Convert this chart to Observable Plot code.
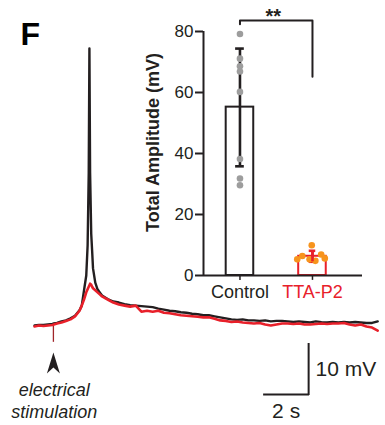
<!DOCTYPE html>
<html><head><meta charset="utf-8">
<script src="https://cdn.jsdelivr.net/npm/d3@7"></script>
<script src="https://cdn.jsdelivr.net/npm/@observablehq/plot@0.6"></script>
<style>
body{margin:0;background:#fff;}
#wrap{position:relative;width:385px;height:425px;font-family:"Liberation Sans",Arial,sans-serif;}
#wrap svg{position:absolute;top:0;}
</style></head><body><div id="wrap"></div>
<script>
// ---- trace data (time in s, membrane potential in mV relative to rest) ----
const times = [0, 0.2, 0.4, 0.6, 0.8, 0.86, 1.0, 1.2, 1.4, 1.6, 1.8, 2.0, 2.1, 2.2, 2.3, 2.36, 2.41, 2.44, 2.47, 2.52, 2.56, 2.6, 2.7, 2.8, 2.9, 3.0,
  3.25, 3.5, 3.75, 4.0, 4.25, 4.5, 4.75, 5.0, 5.25, 5.5, 5.75, 6.0, 6.25, 6.5, 6.75, 7.0, 7.25, 7.5, 7.75, 8.0, 8.25, 8.5, 8.75, 9.0,
  9.25, 9.5, 9.75, 10.0, 10.25, 10.5, 10.75, 11.0, 11.25, 11.5, 11.75, 12.0, 12.25, 12.5, 12.75, 13.0, 13.25, 13.5, 13.75, 14.0,
  14.25, 14.5, 14.75, 15.0, 15.25];
const controlTrace = [0, 0.1, 0.1, 0.2, 0.3, 0.4, 0.5, 0.8, 1.0, 1.4, 1.9, 3.0, 3.9, 6.9, 9.8, 15.7, 30, 54.3, 30, 18, 14.7, 11.2, 8.4, 7.1, 6.5, 5.9,
  5.2, 4.7, 4.5, 4.2, 4.0, 3.9, 3.8, 3.7, 3.6, 3.3, 3.1, 2.9, 2.8, 2.6, 2.5, 2.3, 2.2, 2.0, 2.0, 1.8, 1.6, 1.4, 1.2, 1.1,
  1.2, 1.0, 1.0, 0.9, 1.0, 0.8, 0.9, 0.9, 0.8, 0.7, 0.8, 0.7, 0.6, 0.8, 0.65, 0.6, 0.7, 0.6, 0.7, 0.6,
  0.7, 0.6, 0.5, 0.5, 0.8];
const ttaTrace = [-0.2, 0, -0.1, 0, 0.1, 0.2, 0.4, 0.6, 0.9, 1.2, 1.8, 2.9, 3.9, 5.1, 6.5, 7.1, 7.6, 7.9, 8.2, 8.0, 7.6, 7.3, 6.9, 6.5, 6.1, 5.7,
  5.1, 4.5, 4.1, 3.9, 3.7, 3.9, 2.7, 2.9, 2.7, 2.9, 2.5, 2.4, 2.2, 2.0, 1.9, 1.8, 1.7, 1.6, 1.6, 1.3, 1.0, 0.9, 0.7, 0.8,
  0.6, 0.5, 0.4, 0.5, 0.2, 0.0, 0.2, 0.4, 0.4, 0.3, 0.4, 0.2, 0.2, 0.3, 0.4, 0.3, 0.4, 0.4, 0.5, 0.2,
  0.0, 0.2, -0.2, -0.4, -1.0];
const stimTime = 0.84;
const stimArtifact = -3.3;  // mV, downward artifact at stimulation
const scaleTime = 2;   // s
const scaleVolt = 10;  // mV

// ---- inset bar data ----
const groups = ["Control", "TTA-P2"];
const means = [55.2, 6.3];
const errLow = [35.8, 4.5];
const errHigh = [74.4, 8.1];
const controlPoints = [79.2, 71.1, 68.6, 66.9, 60.2, 38.2, 31.8, 29.6];
const ttaPoints = [9.9, 6.9, 6.4, 5.6, 5.3, 5.3, 4.8];
const ttaSpread = [-0.01, 0.12, -0.14, 0.17, -0.21, -0.04, 0.04];
const sigLabel = "**";
const yTicks = [0, 20, 40, 60, 80];

const BLACK = "#231f20", RED = "#e8202a", ORANGE = "#f7941d", GRAY = "#9d9d9d";
const FONT = "Liberation Sans, Arial, sans-serif";

const trace = times.map((t, i) => ({t, ctl: controlTrace[i], tta: ttaTrace[i]}));

const stealth = {draw(ctx) {
  ctx.moveTo(0, -10.5); ctx.lineTo(6.5, 10.5); ctx.lineTo(0, 4.5); ctx.lineTo(-6.5, 10.5); ctx.closePath();
}};

const barT = 12.18, barV = -13.53;

const main = Plot.plot({
  width: 385, height: 425, margin: 0,
  x: {domain: [0, 15.24], range: [34, 377], axis: null},
  y: {domain: [0, 10], range: [325, 274], axis: null},
  style: {background: "transparent", fontFamily: FONT, overflow: "visible"},
  marks: [
    Plot.ruleX([stimArtifact], {x: stimTime, y1: 0.2, y2: d => d, stroke: "#a0252a", strokeWidth: 1.3}),
    Plot.line(trace, {x: "t", y: "ctl", stroke: BLACK, strokeWidth: 2.4, strokeLinejoin: "round"}),
    Plot.line(trace, {x: "t", y: "tta", stroke: RED, strokeWidth: 2.6, strokeLinejoin: "round"}),
    Plot.ruleX([scaleVolt], {x: barT, y1: barV - 0.2, y2: d => barV + d, stroke: BLACK, strokeWidth: 2}),
    Plot.ruleY([scaleTime], {y: barV, x1: d => barT - d, x2: barT + 0.04, stroke: BLACK, strokeWidth: 2}),
    Plot.text([`${scaleVolt} mV`], {x: barT + 0.31, y: -8.55, textAnchor: "start", fontSize: 21, fill: BLACK}),
    Plot.text([`${scaleTime} s`], {x: barT - scaleTime / 2, y: -16.8, fontSize: 21, fill: BLACK}),
    Plot.dot([stimTime], {x: d => d, y: -7.35, symbol: stealth, fill: BLACK, stroke: null}),
    Plot.text(["electrical", "stimulation"], {x: 0.88, y: (d, i) => [-12.67, -17.0][i], fontSize: 18, fontStyle: "italic", fill: BLACK}),
    Plot.text(["F"], {frameAnchor: "top-left", dx: 20, dy: 22, fontSize: 32, fontWeight: "bold", fill: "#000"})
  ]
});

const stats = groups.map((g, i) => ({i, g, mean: means[i], lo: errLow[i], hi: errHigh[i],
  color: i === 0 ? BLACK : RED, cap: i === 0 ? 0.06 : 0.045}));
const ttaData = ttaPoints.map((v, i) => ({v, x: 1 + ttaSpread[i]}));
const bracket = [{x: 0, y: 82.4}, {x: 0, y: 83.6}, {x: 1, y: 83.6}, {x: 1, y: 65.2}];

const inset = Plot.plot({
  width: 245, height: 310, marginLeft: 63, marginRight: 23, marginTop: 31, marginBottom: 35,
  x: {domain: [-0.503, 1.69], axis: null},
  y: {domain: [0, 80], axis: null},
  color: {type: "identity"},
  style: {background: "transparent", fontFamily: FONT, overflow: "visible", color: BLACK},
  marks: [
    Plot.rectY(stats, {x1: d => d.i - 0.19, x2: d => d.i + 0.19, y1: 0, y2: "mean", fill: "white", stroke: "color", strokeWidth: 2}),
    Plot.ruleX(stats, {x: "i", y1: "lo", y2: "hi", stroke: "color", strokeWidth: 2.6}),
    Plot.ruleY(stats, {y: "hi", x1: d => d.i - d.cap, x2: d => d.i + d.cap, stroke: "color", strokeWidth: 2.6}),
    Plot.ruleY(stats, {y: "lo", x1: d => d.i - d.cap, x2: d => d.i + d.cap, stroke: "color", strokeWidth: 2.6}),
    Plot.dot(controlPoints, {x: 0, y: d => d, r: 3.3, fill: GRAY, stroke: null}),
    Plot.dot(ttaData, {x: "x", y: "v", r: 3.3, fill: ORANGE, stroke: null}),
    Plot.ruleX(stats.slice(1), {x: "i", y1: "lo", y2: "hi", stroke: "color", strokeWidth: 2.6}),
    Plot.ruleY([0], {stroke: BLACK, strokeWidth: 2}),
    Plot.ruleX([-0.503], {y1: 0, y2: 80, stroke: BLACK, strokeWidth: 2}),
    Plot.ruleX(stats, {x: "i", y1: 0, y2: -1.6, stroke: BLACK, strokeWidth: 1.5}),
    Plot.axisY({ticks: yTicks, tickSize: 8, tickPadding: 2, fontSize: 17, label: null, strokeWidth: 2, fill: BLACK}),
    Plot.text(groups, {x: (d, i) => i, y: 0, lineAnchor: "top", dy: 10, fontSize: 18, fill: (d, i) => i === 0 ? BLACK : RED}),
    Plot.text(["Total Amplitude (mV)"], {frameAnchor: "left", dx: -50, dy: -11, rotate: -90, textAnchor: "middle", fontSize: 18, fontWeight: "bold", fill: BLACK}),
    Plot.line(bracket, {x: "x", y: "y", stroke: BLACK, strokeWidth: 2}),
    Plot.text([sigLabel], {x: 0.46, y: 84.8, fontSize: 20, fontWeight: "bold", fill: BLACK})
  ]
});
inset.style.left = "140px";

const wrap = document.getElementById("wrap");
wrap.appendChild(main);
wrap.appendChild(inset);
</script></body></html>
